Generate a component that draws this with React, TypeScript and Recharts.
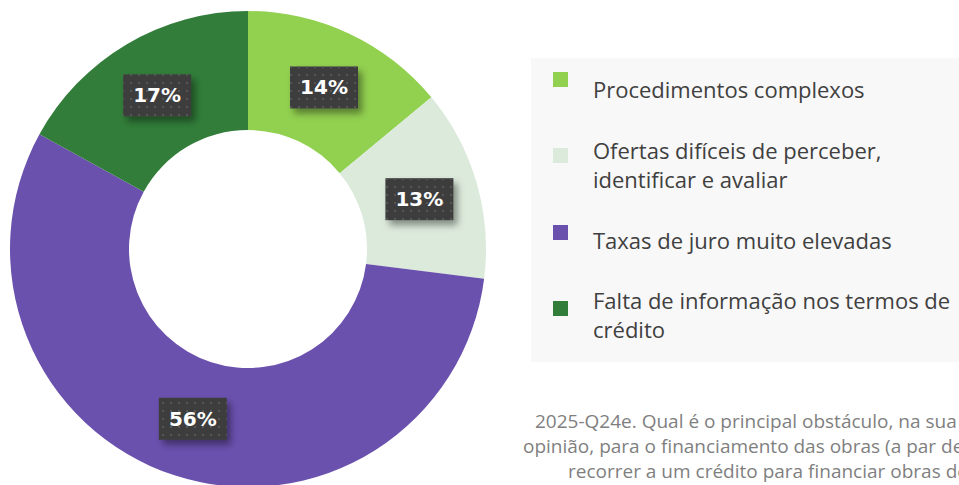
import { PieChart, Pie, Cell, Legend } from "recharts";

const categories = [
  "Procedimentos complexos",
  "Ofertas difíceis de perceber, identificar e avaliar",
  "Taxas de juro muito elevadas",
  "Falta de informação nos termos de crédito",
];
// legend text split into lines as in the original
const legendLines = [
  ["Procedimentos complexos"],
  ["Ofertas difíceis de perceber,", "identificar e avaliar"],
  ["Taxas de juro muito elevadas"],
  ["Falta de informação nos termos de", "crédito"],
];
const shares = [14, 13, 56, 17];
const colors = ["#92D050", "#DCEADB", "#6A51AE", "#317D39"];
const captionLines = [
  "2025-Q24e. Qual é o principal obstáculo, na sua",
  "opinião, para o financiamento das obras (a par de",
  "recorrer a um crédito para financiar obras de",
];

const data = categories.map((name, i) => ({ name, value: shares[i] }));

const RADIAN = Math.PI / 180;

// dark dotted box with drop shadow, like the Excel data labels
function renderLabel(props: any) {
  const { cx, cy, midAngle, innerRadius, outerRadius, value } = props;
  const r = (innerRadius + outerRadius) / 2;
  const x = cx + r * Math.cos(-midAngle * RADIAN);
  const y = cy + r * Math.sin(-midAngle * RADIAN);
  const w = 68;
  const h = 42;
  return (
    <g>
      <rect
        x={x - w / 2}
        y={y - h / 2}
        width={w}
        height={h}
        fill="#3E3E3E"
        filter="url(#lblShadow)"
      />
      <rect x={x - w / 2} y={y - h / 2} width={w} height={h} fill="url(#dots)" />
      <text
        x={x}
        y={y + 7}
        textAnchor="middle"
        fill="#ffffff"
        fontFamily="DejaVu Sans"
        fontWeight="bold"
        fontSize={20}
      >
        {value}%
      </text>
    </g>
  );
}

function LegendBox(props: any) {
  const { payload } = props;
  const markTops = [14, 90, 167, 243];
  const textTops = [17, 78, 168, 228];
  return (
    <div
      style={{
        position: "relative",
        width: 428,
        height: 304,
        background: "#F8F8F8",
        fontFamily: "Open Sans",
        color: "#404040",
      }}
    >
      {(payload || []).map((entry: any, i: number) => (
        <div key={`leg-${i}`}>
          <div
            style={{
              position: "absolute",
              left: 22,
              top: markTops[i],
              width: 15,
              height: 15,
              background: colors[i],
            }}
          />
          <div
            style={{
              position: "absolute",
              left: 62,
              top: textTops[i],
              fontSize: 22,
              lineHeight: "29px",
              whiteSpace: "nowrap",
            }}
          >
            {legendLines[i].map((line, j) => (
              <div key={j}>{line}</div>
            ))}
          </div>
        </div>
      ))}
    </div>
  );
}

export default function App() {
  return (
    <div
      style={{
        position: "absolute",
        left: 0,
        top: 0,
        width: 959,
        height: 485,
        overflow: "hidden",
        background: "#ffffff",
      }}
    >
      <PieChart width={959} height={485} margin={{ top: 0, right: 0, bottom: 0, left: 0 }}>
        <defs>
          <pattern id="dots" width="8" height="8" patternUnits="userSpaceOnUse">
            <rect x="2" y="2" width="2" height="2" fill="#575757" />
          </pattern>
          <filter id="lblShadow" x="-30%" y="-30%" width="170%" height="170%">
            <feDropShadow dx="4" dy="5" stdDeviation="3.5" floodColor="#000" floodOpacity="0.4" />
          </filter>
        </defs>
        <Pie
          data={data}
          dataKey="value"
          nameKey="name"
          cx={248}
          cy={249}
          innerRadius={119}
          outerRadius={238}
          startAngle={90}
          endAngle={-270}
          stroke="none"
          label={renderLabel}
          labelLine={false}
          isAnimationActive={false}
        >
          {data.map((d, i) => (
            <Cell key={`cell-${i}`} fill={colors[i]} />
          ))}
        </Pie>
        <Legend
          content={<LegendBox />}
          wrapperStyle={{ position: "absolute", left: 531, top: 58, width: 428, height: 304 }}
        />
      </PieChart>
      <div
        style={{
          position: "absolute",
          left: 0,
          top: 0,
          fontFamily: "Open Sans",
          fontSize: 19,
          color: "#7F7F7F",
          whiteSpace: "nowrap",
        }}
      >
        {captionLines.map((line, i) => (
          <div
            key={i}
            style={{ position: "absolute", left: [535, 523, 568][i], top: 408 + i * 25, lineHeight: "26px" }}
          >
            {line}
          </div>
        ))}
      </div>
    </div>
  );
}
